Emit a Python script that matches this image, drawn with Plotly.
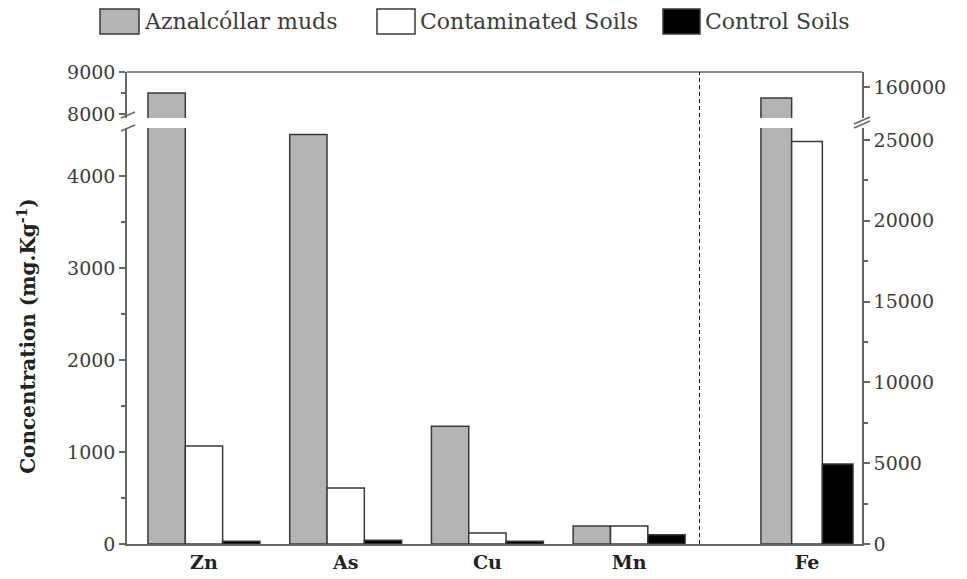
import plotly.graph_objects as go

# ---- data -------------------------------------------------------------
elements = ["Zn", "As", "Cu", "Mn"]          # left axis (mg/kg)
iron = ["Fe"]                                # right axis (mg/kg)
series = ["Aznalcóllar muds", "Contaminated Soils", "Control Soils"]

muds = [8500, 4450, 1280, 195]
contaminated = [1065, 610, 120, 195]
control = [30, 40, 30, 100]

iron_muds = [157400]
iron_contaminated = [24900]
iron_control = [4950]

left_ticks = [0, 1000, 2000, 3000, 4000]
left_upper_ticks = [8000, 9000]
right_ticks = [0, 5000, 10000, 15000, 20000, 25000]
right_upper_ticks = [160000]

# ---- styling ------------------------------------------------------------
W, H = 967, 579
L, R, T, B = 127, 105, 72, 35
PW, PH = W - L - R, H - T - B

fills = ["#b4b4b4", "#ffffff", "#000000"]
edge = "#3a3a3a"
axis_col = "#666666"
text_col = "#3c3c3c"
serif = "DejaVu Serif"


def px_x(px):
    return (px - L) / PW


def px_y(py):
    return (T + PH - py) / PH


split = px_x(700)             # boundary between the metal block and Fe
lower_dom = [0, px_y(128)]
upper_dom = [px_y(118), 1]

fig = go.Figure()

left_vals = [muds, contaminated, control]
right_vals = [iron_muds, iron_contaminated, iron_control]

for i, name in enumerate(series):
    style = dict(marker=dict(color=fills[i], line=dict(color=edge, width=1.5)),
                 offsetgroup=str(i), showlegend=False, name=name)
    fig.add_trace(go.Bar(x=elements, y=left_vals[i], xaxis="x", yaxis="y",
                         alignmentgroup="metals", **style))
    fig.add_trace(go.Bar(x=iron, y=right_vals[i], xaxis="x2", yaxis="y2",
                         alignmentgroup="iron", **style))

# upper (broken) panel: only the muds exceed the lower ranges
up_style = dict(marker=dict(color=fills[0], line=dict(color=edge, width=1.5)),
                offsetgroup="0", showlegend=False, name=series[0])
fig.add_trace(go.Bar(x=elements, y=muds, xaxis="x", yaxis="y3",
                     alignmentgroup="metals", **up_style))
fig.add_trace(go.Bar(x=iron, y=iron_muds, xaxis="x2", yaxis="y4",
                     alignmentgroup="iron", **up_style))

tickfont = dict(family=serif, size=19, color=text_col)
yline = dict(showline=True, linecolor=axis_col, linewidth=1.5, ticks="outside",
             ticklen=6, tickcolor=axis_col, tickwidth=1.5, showgrid=False,
             zeroline=False, tickfont=tickfont, tickformat="d")
xfont = dict(family=serif, size=19, color="#222", weight="bold")

fig.update_layout(
    width=W, height=H,
    margin=dict(l=L, r=R, t=T, b=B, autoexpand=False),
    paper_bgcolor="white", plot_bgcolor="white",
    barmode="group", bargap=0.21, bargroupgap=0,
    showlegend=False,
    xaxis=dict(domain=[0, split], type="category", range=[-0.543, 3.5],
               anchor="y", showline=True, linecolor=axis_col, linewidth=1.5,
               ticks="", showgrid=False, tickfont=xfont),
    xaxis2=dict(domain=[split, 1], type="category", range=[-0.918, 0.472],
                anchor="y2", showline=True, linecolor=axis_col, linewidth=1.5,
                ticks="", showgrid=False, tickfont=xfont),
    xaxis3=dict(overlaying="x", anchor="y", range=[-0.543, 3.5],
                tickvals=[0.5, 1.5, 2.5, 3.5], ticks="inside", ticklen=7,
                tickwidth=1.5, tickcolor=axis_col, showticklabels=False,
                showgrid=False, zeroline=False, showline=False),
    xaxis4=dict(overlaying="x", anchor="y", range=[-0.543, 3.5],
                tickvals=[0.5, 1.5, 2.5, 3.5], ticks="outside", ticklen=4,
                tickwidth=1.5, tickcolor=axis_col, showticklabels=False,
                showgrid=False, zeroline=False, showline=False),
    yaxis=dict(domain=lower_dom, anchor="x", range=[0, 4522],
               tickvals=left_ticks,
               minor=dict(tickvals=[500, 1500, 2500, 3500], ticks="outside",
                          ticklen=4, tickcolor=axis_col),
               title=dict(text="Concentration (mg.Kg<sup>-1</sup>)",
                          font=dict(family=serif, size=20, color="#222",
                                    weight="bold"),
                          standoff=26),
               **yline),
    yaxis2=dict(overlaying="y", side="right", anchor="x2", range=[0, 25743],
                tickvals=right_ticks,
                minor=dict(tickvals=[2500, 7500, 12500, 17500, 22500],
                           ticks="outside", ticklen=4, tickcolor=axis_col),
                **yline),
    yaxis3=dict(domain=upper_dom, anchor="x", range=[7905, 9000],
                tickvals=left_upper_ticks,
                minor=dict(tickvals=[8500], ticks="outside", ticklen=4,
                           tickcolor=axis_col),
                **yline),
    yaxis4=dict(overlaying="y3", side="right", anchor="x2",
                range=[152619, 163571], tickvals=right_upper_ticks, **yline),
)

shapes = []
# frame top edge
shapes.append(dict(type="line", xref="paper", yref="paper", x0=0, x1=1, y0=1, y1=1,
                   line=dict(color=axis_col, width=1.5)))
# dashed separator before Fe
shapes.append(dict(type="line", xref="x", yref="paper", x0=3.5, x1=3.5, y0=0, y1=1,
                   line=dict(color="#111", width=2, dash="4px,3px")))
# axis break marks
for (x0, y0, x1, y1) in [(121, 118, 135, 112), (121, 131, 135, 125),
                         (854, 124, 870, 117), (854, 128, 870, 121)]:
    shapes.append(dict(type="line", xref="paper", yref="paper",
                       x0=px_x(x0), x1=px_x(x1), y0=px_y(y0), y1=px_y(y1),
                       line=dict(color=axis_col, width=1.5)))

# legend row
annotations = []
legend_boxes = [(100, 139), (377, 415), (663, 700)]
for i, name in enumerate(series):
    bx0, bx1 = legend_boxes[i]
    shapes.append(dict(type="rect", xref="paper", yref="paper",
                       x0=px_x(bx0), x1=px_x(bx1), y0=px_y(34), y1=px_y(9),
                       fillcolor=fills[i], line=dict(color=edge, width=1.5)))
    annotations.append(dict(text=name, xref="paper", yref="paper",
                            x=px_x(bx1 + 3), y=px_y(21.5), xanchor="left",
                            yanchor="middle", showarrow=False,
                            font=dict(family=serif, size=22, color=text_col)))

fig.update_layout(shapes=shapes, annotations=annotations)

fig.write_html("out.html")
